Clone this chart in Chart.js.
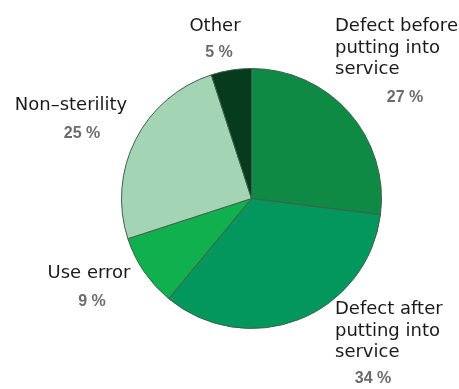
<!DOCTYPE html>
<html>
<head>
<meta charset="utf-8">
<script src="https://cdn.jsdelivr.net/npm/chart.js@4/dist/chart.umd.min.js"></script>
<style>
  html, body { margin: 0; padding: 0; background: #fff; }
  #wrap { width: 459px; height: 389px; position: relative; }
</style>
</head>
<body>
<div id="wrap"><canvas id="pie"></canvas></div>
<script>
// --- data ---
const categories = [
    ['Defect before', 'putting into', 'service'],
    ['Defect after', 'putting into', 'service'],
    ['Use error'],
    ['Non\u2013sterility'],
    ['Other']
];
const shares = [27, 34, 9, 25, 5];
const sliceColors = ['#0f8a44', '#03975d', '#10b04f', '#a3d5b5', '#063b1e'];

// where each label block sits (name lines, then the percent line)
const labelLayout = [
    { x: 335, y: 31, align: 'left', pctX: 405, pctY: 98 },
    { x: 335, y: 314, align: 'left', pctX: 373, pctY: 379 },
    { x: 89, y: 278, align: 'center', pctX: 92, pctY: 302 },
    { x: 71, y: 110, align: 'center', pctX: 82, pctY: 134 },
    { x: 215, y: 31, align: 'center', pctX: 219, pctY: 53 }
];

const sliceLabels = {
    id: 'sliceLabels',
    afterDraw(chart) {
        const ctx = chart.ctx;
        ctx.save();
        categories.forEach((lines, i) => {
            const pos = labelLayout[i];
            ctx.font = '18px "DejaVu Sans"';
            ctx.fillStyle = '#1a1a1a';
            ctx.textAlign = pos.align;
            ctx.textBaseline = 'alphabetic';
            lines.forEach((line, k) => ctx.fillText(line, pos.x, pos.y + k * 21.7));

            ctx.font = 'bold 16px "Liberation Sans"';
            ctx.fillStyle = '#6b6b6b';
            ctx.textAlign = 'center';
            ctx.textBaseline = 'middle';
            ctx.fillText(`${shares[i]} %`, pos.pctX, pos.pctY);
        });
        ctx.restore();
    }
};

new Chart(document.getElementById('pie'), {
    type: 'pie',
    data: {
        labels: categories.map(l => l.join(' ')),
        datasets: [{
            data: shares,
            backgroundColor: sliceColors,
            borderColor: '#3f5f48',
            borderWidth: 1,
            hoverOffset: 0
        }]
    },
    options: {
        responsive: true,
        maintainAspectRatio: false,
        animation: false,
        layout: { padding: { top: 68, bottom: 60, left: 121, right: 77 } },
        plugins: {
            legend: { display: false },
            tooltip: { enabled: false }
        }
    },
    plugins: [sliceLabels]
});
</script>
</body>
</html>
